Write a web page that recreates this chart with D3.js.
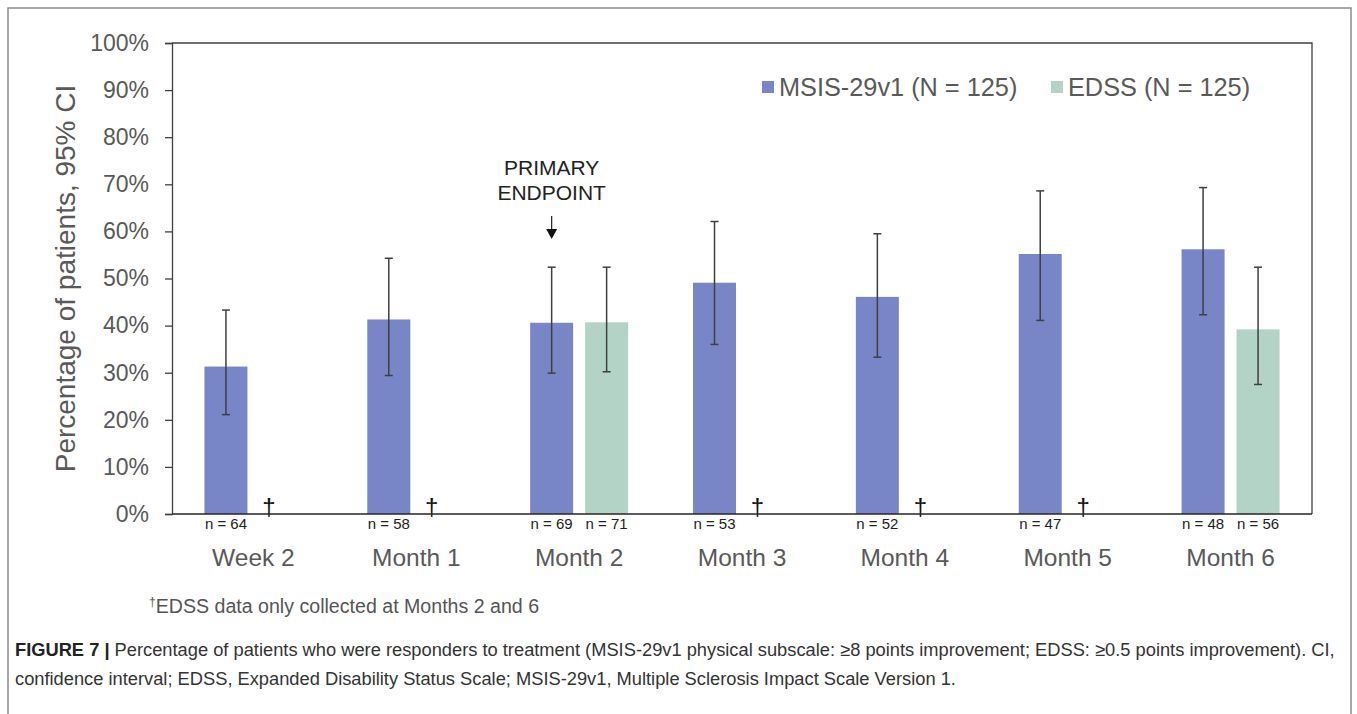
<!DOCTYPE html>
<html>
<head>
<meta charset="utf-8">
<script src="https://cdn.jsdelivr.net/npm/d3@7"></script>
<style>
  body { margin: 0; background: #fff; }
  text { font-family: "Liberation Sans", Arial, sans-serif; }
</style>
</head>
<body>
<script>
// data
var timepoints = ["Week 2", "Month 1", "Month 2", "Month 3", "Month 4", "Month 5", "Month 6"];
var seriesNames = ["MSIS-29v1 (N = 125)", "EDSS (N = 125)"];

var msisPct  = [31.3, 41.3, 40.6, 49.1, 46.1, 55.2, 56.2];
var msisLow  = [21.1, 29.4, 29.9, 36.0, 33.3, 41.1, 42.3];
var msisHigh = [43.3, 54.3, 52.4, 62.1, 59.5, 68.6, 69.3];
var msisN    = [64, 58, 69, 53, 52, 47, 48];

// EDSS only at month 2 and 6 (null = not collected)
var edssPct  = [null, null, 40.7, null, null, null, 39.2];
var edssLow  = [null, null, 30.2, null, null, null, 27.5];
var edssHigh = [null, null, 52.4, null, null, null, 52.4];
var edssN    = [null, null, 71, null, null, null, 56];

var yTicks = [0, 10, 20, 30, 40, 50, 60, 70, 80, 90, 100];

var width = 1357,
    height = 714;

// plot box edges (note: "top" is a reserved window prop, so use other names)
var plotL = 172, plotR = 1312, plotT = 43, plotB = 514;

var colors = {"MSIS-29v1 (N = 125)": "#7886c7", "EDSS (N = 125)": "#b2d3c5"};

var svg = d3.select("body").append("svg")
    .attr("width", width)
    .attr("height", height);

// outer figure frame
svg.append("rect")
    .attr("x", 8).attr("y", 8)
    .attr("width", 1343).attr("height", 740)
    .attr("fill", "none")
    .attr("stroke", "#8c8c8c")
    .attr("stroke-width", 1.5);

var x0 = d3.scaleBand().domain(timepoints).range([plotL, plotR]);
var x1 = d3.scaleBand().domain(seriesNames).range([0, x0.bandwidth()])
    .paddingInner(0.218).paddingOuter(0.59);
var y = d3.scaleLinear().domain([0, 100]).range([plotB, plotT]);

// build rows
var rows = [];
timepoints.forEach(function (t, i) {
  rows.push({t: t, s: seriesNames[0], v: msisPct[i], lo: msisLow[i], hi: msisHigh[i], n: msisN[i]});
  if (edssPct[i] != null)
    rows.push({t: t, s: seriesNames[1], v: edssPct[i], lo: edssLow[i], hi: edssHigh[i], n: edssN[i]});
});

// plot box (top and right)
svg.append("path")
    .attr("d", "M" + plotL + "," + plotT + "H" + plotR + "V" + plotB)
    .attr("fill", "none")
    .attr("stroke", "#404040")
    .attr("stroke-width", 1.3);

// bars
svg.selectAll("rect.bar")
    .data(rows)
    .enter().append("rect")
    .attr("class", "bar")
    .attr("x", d => x0(d.t) + x1(d.s))
    .attr("y", d => y(d.v))
    .attr("width", x1.bandwidth())
    .attr("height", d => y(0) - y(d.v))
    .attr("fill", d => colors[d.s]);

// error bars
var eb = svg.selectAll("g.err")
    .data(rows)
    .enter().append("g")
    .attr("class", "err")
    .attr("transform", d => "translate(" + (x0(d.t) + x1(d.s) + x1.bandwidth() / 2) + ",0)")
    .attr("stroke", "#3f3f3f")
    .attr("stroke-width", 1.5);
eb.append("line").attr("y1", d => y(d.lo)).attr("y2", d => y(d.hi));
eb.append("line").attr("x1", -4).attr("x2", 4).attr("y1", d => y(d.lo)).attr("y2", d => y(d.lo));
eb.append("line").attr("x1", -4).attr("x2", 4).attr("y1", d => y(d.hi)).attr("y2", d => y(d.hi));

// daggers where EDSS missing
svg.selectAll("text.dagger")
    .data(timepoints.filter((t, i) => edssPct[i] == null))
    .enter().append("text")
    .attr("class", "dagger")
    .attr("x", d => x0(d) + x1(seriesNames[1]) + x1.bandwidth() / 2 - 12)
    .attr("y", plotB + 1)
    .attr("text-anchor", "middle")
    .attr("font-size", 24)
    .attr("fill", "#111")
    .text("\u2020");

// y axis
var yAxis = svg.append("g")
    .attr("transform", "translate(" + plotL + ",0)")
    .call(d3.axisLeft(y).tickValues(yTicks).tickSize(7).tickPadding(16)
      .tickFormat(d => d + "%"));
yAxis.select(".domain").attr("stroke", "#404040").attr("stroke-width", 1.3);
yAxis.selectAll(".tick line").attr("stroke", "#404040").attr("stroke-width", 1.3);
yAxis.selectAll(".tick text")
    .attr("font-size", 23)
    .attr("fill", "#595959")
    .style("font-family", "'Liberation Sans', Arial, sans-serif");

// x axis line
svg.append("line")
    .attr("x1", plotL).attr("x2", plotR)
    .attr("y1", plotB).attr("y2", plotB)
    .attr("stroke", "#262626")
    .attr("stroke-width", 1.5);

// n labels
svg.selectAll("text.nlab")
    .data(rows)
    .enter().append("text")
    .attr("class", "nlab")
    .attr("x", d => x0(d.t) + x1(d.s) + x1.bandwidth() / 2)
    .attr("y", plotB + 15)
    .attr("text-anchor", "middle")
    .attr("font-size", 15)
    .attr("fill", "#222")
    .text(d => "n = " + d.n);

// category labels
svg.selectAll("text.cat")
    .data(timepoints)
    .enter().append("text")
    .attr("class", "cat")
    .attr("x", d => x0(d) + x0.bandwidth() / 2)
    .attr("y", 566)
    .attr("text-anchor", "middle")
    .attr("font-size", 24.5)
    .attr("fill", "#595959")
    .text(d => d);

// y title
svg.append("text")
    .attr("transform", "translate(75," + ((plotT + plotB) / 2) + ") rotate(-90)")
    .attr("text-anchor", "middle")
    .attr("font-size", 28)
    .attr("fill", "#595959")
    .text("Percentage of patients, 95% CI");

// legend
var legX = [762, 1051];
var leg = svg.selectAll("g.leg")
    .data(seriesNames)
    .enter().append("g")
    .attr("class", "leg")
    .attr("transform", (d, i) => "translate(" + legX[i] + ",87)");
leg.append("rect")
    .attr("x", 0).attr("y", -6)
    .attr("width", 12).attr("height", 12)
    .attr("fill", d => colors[d]);
leg.append("text")
    .attr("x", 17).attr("y", 9)
    .attr("font-size", 25.3)
    .attr("fill", "#595959")
    .text(d => d);

// primary endpoint annotation
var px = x0("Month 2") + x1(seriesNames[0]) + x1.bandwidth() / 2;
svg.append("text")
    .attr("x", px).attr("y", 175)
    .attr("text-anchor", "middle")
    .attr("font-size", 21)
    .attr("fill", "#222")
    .selectAll("tspan")
    .data(["PRIMARY", "ENDPOINT"])
    .enter().append("tspan")
    .attr("x", px)
    .attr("dy", (d, i) => i ? 25 : 0)
    .text(d => d);
svg.append("line")
    .attr("x1", px).attr("x2", px)
    .attr("y1", 216).attr("y2", 231)
    .attr("stroke", "#222").attr("stroke-width", 1.2);
svg.append("path")
    .attr("d", "M" + (px - 5.5) + ",229L" + (px + 5.5) + ",229L" + px + ",239Z")
    .attr("fill", "#111");

// footnote
var foot = svg.append("text")
    .attr("x", 149).attr("y", 613)
    .attr("font-size", 19.6)
    .attr("fill", "#555");
foot.append("tspan").attr("font-size", 12).attr("dy", -7).text("\u2020");
foot.append("tspan").attr("dy", 7).text("EDSS data only collected at Months 2 and 6");

// caption
var cap1 = svg.append("text")
    .attr("x", 15).attr("y", 656)
    .attr("font-size", 18.3)
    .attr("fill", "#333");
cap1.append("tspan").attr("font-weight", "bold").attr("fill", "#222").text("FIGURE 7 | ");
cap1.append("tspan").text("Percentage of patients who were responders to treatment (MSIS-29v1 physical subscale: \u22658 points improvement; EDSS: \u22650.5 points improvement). CI,");
svg.append("text")
    .attr("x", 15).attr("y", 685)
    .attr("font-size", 18.3)
    .attr("fill", "#333")
    .text("confidence interval; EDSS, Expanded Disability Status Scale; MSIS-29v1, Multiple Sclerosis Impact Scale Version 1.");
</script>
</body>
</html>
